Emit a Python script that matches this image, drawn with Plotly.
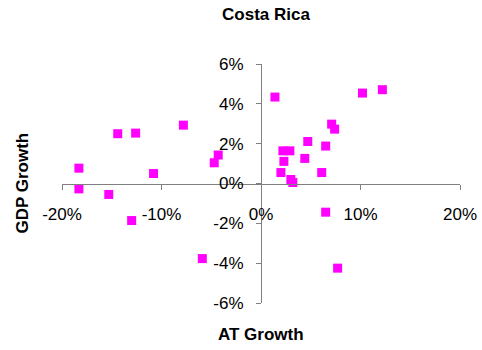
import plotly.graph_objects as go

# AT growth (%) vs GDP growth (%), Costa Rica
at_growth = [-18.3, -18.3, -15.3, -14.4, -12.6, -10.8, -7.8, -4.7, -4.3,
             -13.0, -5.9, 6.5, 7.7,
             1.4, 10.2, 12.2, 7.1, 7.4, 4.7, 6.5, 2.2, 2.9, 2.3, 4.4,
             2.0, 6.1, 3.0, 3.2]
gdp_growth = [0.77, -0.27, -0.55, 2.50, 2.53, 0.50, 2.93, 1.04, 1.43,
              -1.86, -3.77, -1.44, -4.25,
              4.34, 4.54, 4.71, 2.98, 2.73, 2.11, 1.88, 1.64, 1.64, 1.11, 1.26,
              0.55, 0.55, 0.20, 0.05]

x_ticks = [-20, -10, 0, 10, 20]
y_ticks = [-6, -4, -2, 0, 2, 4, 6]

font = "Liberation Sans, Arial, sans-serif"

fig = go.Figure()
fig.add_trace(go.Scatter(
    x=at_growth, y=gdp_growth, mode="markers",
    marker=dict(symbol="square", size=9, color="#ff00ff", line=dict(width=0)),
    hoverinfo="x+y", showlegend=False))

axis_common = dict(
    showgrid=False, zeroline=False, showline=True, linecolor="#808080",
    linewidth=1, ticks="outside", ticklen=5, tickcolor="#808080",
    tickfont=dict(family=font, size=17, color="black"),
    anchor="free", position=0.5, automargin=False,
)

fig.update_layout(
    width=482, height=350,
    margin=dict(l=62, r=22, t=64, b=47),
    paper_bgcolor="white", plot_bgcolor="white",
    font=dict(family=font, color="black"),
    xaxis=dict(range=[-20, 20], tickvals=x_ticks,
               ticktext=[f"{v}%" for v in x_ticks], ticklabelstandoff=10,
               **axis_common),
    yaxis=dict(range=[-6, 6], tickvals=y_ticks,
               ticktext=[f"{v}%" for v in y_ticks], ticklabelstandoff=9,
               **axis_common),
    title=dict(text="<b>Costa Rica</b>", x=266 / 482, xref="container",
               xanchor="center", y=1 - 14 / 350, yanchor="middle",
               font=dict(size=17, family=font)),
)

fig.add_annotation(text="<b>GDP Growth</b>", xref="paper", yref="paper",
                   x=(22 - 62) / 398, y=0.5, xanchor="center",
                   showarrow=False, textangle=-90,
                   font=dict(size=17, family=font))
fig.add_annotation(text="<b>AT Growth</b>", xref="paper", yref="paper",
                   x=0.5, y=-(334 - 303) / 239, yanchor="middle",
                   showarrow=False, font=dict(size=17, family=font))

fig.write_html("out.html", config={"displayModeBar": False},
               post_script="document.body.style.margin='0';")
